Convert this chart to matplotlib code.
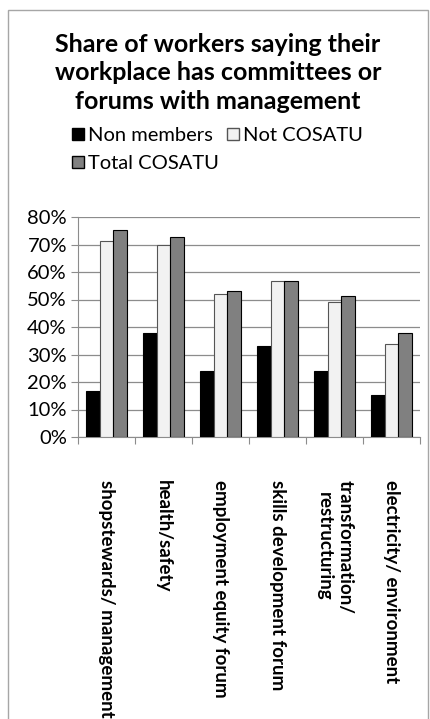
import numpy as np
import matplotlib.pyplot as plt
from matplotlib.patches import Rectangle, Patch

plt.rcParams['font.family'] = ['Lato', 'DejaVu Sans']

categories = ['shopstewards/ management', 'health/safety', 'employment equity forum',
              'skills development forum', 'transformation/\nrestructuring',
              'electricity/ environment']
non_members = [16.7, 38, 23.9, 33, 23.9, 15.3]
not_cosatu = [71.4, 69.7, 51.9, 56.6, 49, 33.7]
total_cosatu = [75.3, 72.8, 53.2, 56.9, 51.3, 37.7]
yticks = [0, 10, 20, 30, 40, 50, 60, 70, 80]

fig = plt.figure(figsize=(4.31, 7.19), dpi=100)
# outer chart border
fig.patches.append(Rectangle((8/431, -0.01), 420/431, 1 - 10/719 + 0.01,
                             transform=fig.transFigure, fill=False,
                             edgecolor='#a6a6a6', lw=1))

ax = fig.add_axes([78/431, 282/719, 342/431, 220/719])
x = np.arange(len(categories))
w = 0.245
ax.bar(x - w, non_members, w, color='black', edgecolor='black', lw=0.8, zorder=3)
ax.bar(x, not_cosatu, w, color='#f2f2f2', edgecolor='#555555', lw=0.8, zorder=3)
ax.bar(x + w, total_cosatu, w, color='#808080', edgecolor='black', lw=0.8, zorder=3)

ax.set_xlim(-0.5, len(categories) - 0.5)
ax.set_ylim(0, 80)
ax.set_yticks(yticks)
ax.set_yticklabels([f'{t}%' for t in yticks], fontsize=14.5)
ax.yaxis.grid(True, color='#8c8c8c', lw=0.9, zorder=0)
for s in ['top', 'right']:
    ax.spines[s].set_visible(False)
ax.spines['left'].set_color('#8c8c8c')
ax.spines['bottom'].set_color('#8c8c8c')
ax.tick_params(axis='y', length=5, color='#8c8c8c', pad=3)

ax.set_xticks(np.arange(len(categories) + 1) - 0.5)
ax.set_xticklabels([])
ax.tick_params(axis='x', length=5, color='#8c8c8c')
for i, c in enumerate(categories):
    ax.text(i, -15.5, c, rotation=-90, ha='center', va='top', fontsize=13.5,
            fontweight='bold', multialignment='center', linespacing=1.3)

fig.text(218/431, 1 - 73/719, 'Share of workers saying their\nworkplace has committees or\nforums with management',
         ha='center', va='center', fontsize=18, fontweight='bold', linespacing=1.28)

handles = [Patch(facecolor='black', edgecolor='black', label='Non members'),
           Patch(facecolor='#808080', edgecolor='black', label='Total COSATU'),
           Patch(facecolor='#f2f2f2', edgecolor='#555555', label='Not COSATU')]
fig.legend(handles=handles, ncol=2, loc='upper left', bbox_to_anchor=(64/431, 1 - 119/719),
           frameon=False, fontsize=14.5, handlelength=0.6, handleheight=0.6,
           handletextpad=0.2, columnspacing=0.4, labelspacing=0.55, borderaxespad=0)

fig.savefig('out.png', dpi=100)
